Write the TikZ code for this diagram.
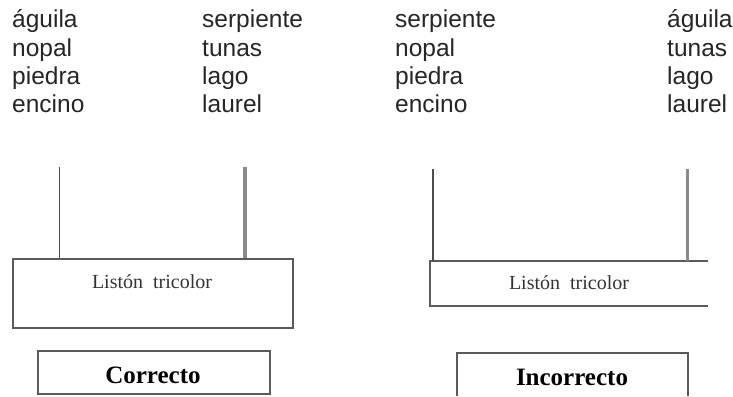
\documentclass[tikz,border=0pt]{standalone}
\usepackage{fontspec}
\setmainfont{Liberation Serif}
\newfontfamily\wordfont{Liberation Sans}
\definecolor{wordink}{HTML}{262626}
\definecolor{edgeink}{HTML}{5A5A5A}
\definecolor{cordink}{HTML}{8A8A8A}
\usetikzlibrary{positioning}

\begin{document}
\begin{tikzpicture}[x=1pt,y=-1pt,every node/.style={inner sep=0pt},
  word/.style={anchor=base west,text=wordink,font=\wordfont\fontsize{24.5}{28}\selectfont},
  edge/.style={draw=edgeink,line width=1.8pt},
  cordA/.style={draw=edgeink!85!black,line width=1.6pt},
  cordB/.style={draw=cordink,line width=3.2pt},
  ribtext/.style={anchor=base,text=black!80,font=\fontsize{20}{22}\selectfont},
  verdict/.style={anchor=base,font=\bfseries\fontsize{25}{28}\selectfont}]
\useasboundingbox (0,0) rectangle (733,396);
\foreach \w [count=\i] in {águila,nopal,piedra,encino}
  \node[word] (wa\i) at (12,{28.3*\i-0.3}) {\w};
\foreach \w [count=\i] in {serpiente,tunas,lago,laurel}
  \node[word] (wb\i) at (202,{28.3*\i-0.3}) {\w};
\foreach \w [count=\i] in {serpiente,nopal,piedra,encino}
  \node[word] (wc\i) at (395,{28.3*\i-0.3}) {\w};
\foreach \w [count=\i] in {águila,tunas,lago,laurel}
  \node[word] (wd\i) at (667,{28.3*\i-0.3}) {\w};
\node[edge,anchor=north west,minimum width=280pt,minimum height=69pt] (ribL) at (12,258) {};
\node[ribtext] (txtL) at (152,288) {Listón\ \ tricolor};
\coordinate (cL1) at (59.5,167);
\coordinate (cL2) at (245,167);
\draw[cordA] (cL1) -- (cL1 |- ribL.north);
\draw[cordB] (cL2) -- (cL2 |- ribL.north);
\coordinate (ribRne) at (708,261);
\coordinate (ribRnw) at (430,261);
\coordinate (ribRsw) at (430,306);
\coordinate (ribRse) at (708,306);
\draw[edge] (ribRne) -- (ribRnw) -- (ribRsw) -- (ribRse);
\node[ribtext] (txtR) at (569,289) {Listón\ \ tricolor};
\coordinate (cR1) at (433,169);
\coordinate (cR2) at (687.5,169);
\draw[cordA] (cR1) -- (cR1 |- ribRnw);
\draw[cordB] (cR2) -- (cR2 |- ribRnw);
\node[edge,anchor=north west,minimum width=232pt,minimum height=43pt] (boxOk) at (37,350) {};
\node[verdict] (okL) at (153,383) {Correcto};
\coordinate (badsw) at (457,396);
\coordinate (badnw) at (457,353);
\coordinate (badne) at (688,353);
\coordinate (badse) at (688,396);
\draw[edge] (badsw) -- (badnw) -- (badne) -- (badse);
\node[verdict] (badL) at (572,385) {Incorrecto};
\end{tikzpicture}
\end{document}
